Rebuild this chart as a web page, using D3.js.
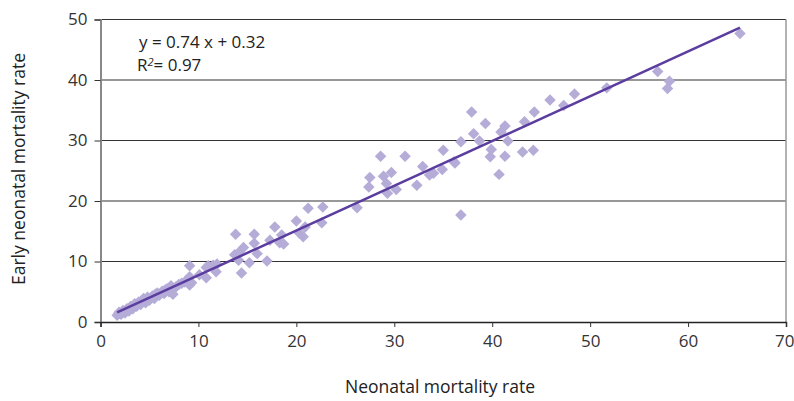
<!DOCTYPE html>
<html><head><meta charset="utf-8">
<script src="https://cdn.jsdelivr.net/npm/d3@7"></script>
<style>body{margin:0;background:#fff}svg{display:block}text{font-family:"Open Sans",Lato,sans-serif}</style>
</head><body><div id="chart"></div>
<script>
const xTicks = [0,10,20,30,40,50,60,70];
const yTicks = [0,10,20,30,40,50];
const neonatal = [1.7,1.9,2.1,2.3,2.5,2.7,2.9,3.1,3.3,3.5,3.7,3.9,4.1,4.3,4.6,4.8,5.0,5.3,5.5,5.8,6.0,6.3,6.5,6.8,7.0,7.2,7.4,7.7,8.0,8.3,8.6,8.9,9.1,9.3,4.4,3.0,2.0,5.6,6.6,
 9.1,9.1,10.1,10.8,11.0,11.5,11.9,11.8,10.8,
 13.7,13.8,14.1,14.2,14.4,14.6,15.2,15.7,15.7,16.0,17.0,17.3,17.8,18.3,18.5,18.7,20.0,20.3,20.7,20.9,21.2,22.6,22.7,
 26.2,27.4,27.5,28.6,28.9,29.2,29.3,29.7,30.2,31.1,32.3,32.9,33.6,34.0,34.9,35.0,36.2,36.8,36.8,
 36.1,37.9,38.1,38.7,39.3,39.9,39.8,40.7,40.9,41.3,41.6,41.3,43.1,44.2,43.3,44.3,45.9,47.3,48.4,
 51.7,56.9,58.1,57.9,65.3];
const earlyNeonatal = [1.1,1.6,1.3,1.9,1.5,2.2,1.8,2.6,2.2,3.0,2.6,3.3,2.9,3.5,3.2,4.1,3.6,4.3,3.9,4.8,4.4,5.1,4.7,5.5,5.0,6.0,4.6,5.8,6.2,6.4,6.6,7.0,6.1,6.5,3.9,2.4,1.4,4.6,5.3,
 9.3,7.5,7.8,7.3,9.3,9.4,9.6,8.3,9.0,
 11.1,14.5,10.2,11.6,8.1,12.3,9.8,14.5,13.0,11.3,10.1,13.5,15.7,13.1,14.4,12.9,16.7,14.7,14.1,15.7,18.8,16.4,19.0,
 18.9,22.3,23.9,27.4,24.1,22.9,21.3,24.7,21.9,27.4,22.6,25.7,24.3,24.6,25.2,28.4,26.3,29.8,17.7,
 26.5,34.7,31.1,29.9,32.8,28.5,27.3,24.4,31.4,32.4,29.9,27.4,28.1,28.4,33.1,34.7,36.7,35.8,37.7,
 38.7,41.4,39.8,38.6,47.7];
const slope = 0.74, intercept = 0.32;
const equationText = "y = 0.74 x + 0.32";
const xTitle = "Neonatal mortality rate";
const yTitle = "Early neonatal mortality rate";

const W = 794, H = 401;
const svg = d3.select("#chart").append("svg").attr("width", W).attr("height", H);
const x = d3.scaleLinear().domain([0,70]).range([100.5,786]);
const y = d3.scaleLinear().domain([0,50]).range([322,19.5]);

// gridlines
svg.append("g").selectAll("line").data(yTicks.filter(d=>d>0)).join("line")
  .attr("x1", x(0)).attr("x2", x(70)).attr("y1", d=>y(d)).attr("y2", d=>y(d))
  .attr("stroke", "#333").attr("stroke-width", 1.2);
// right border
svg.append("line").attr("x1", x(70)).attr("x2", x(70)).attr("y1", y(50)).attr("y2", y(0))
  .attr("stroke", "#999").attr("stroke-width", 1.5);

// axes
const yAxis = svg.append("g").attr("transform", `translate(${x(0)},0)`)
  .call(d3.axisLeft(y).tickValues(yTicks).tickSize(6).tickPadding(7));
yAxis.select(".domain").attr("stroke", "#888").attr("stroke-width", 2);
yAxis.selectAll(".tick line").attr("stroke", "#333");
yAxis.selectAll("text").attr("font-size", 17).attr("fill", "#333");

const xAxis = svg.append("g").attr("transform", `translate(0,${y(0)})`)
  .call(d3.axisBottom(x).tickValues(xTicks).tickSize(5).tickPadding(8));
xAxis.select(".domain").attr("stroke", "#222").attr("stroke-width", 1.5);
xAxis.selectAll(".tick line").attr("stroke", "#333");
xAxis.selectAll("text").attr("font-size", 17).attr("fill", "#333");
xAxis.selectAll(".tick").filter(d=>d===70).select("text").attr("text-anchor","end").attr("dx", 8);

// points
const pts = neonatal.map((v,i)=>[v, earlyNeonatal[i]]);
svg.append("g").selectAll("path").data(pts).join("path")
  .attr("d", d3.symbol().type(d3.symbolDiamond2).size(84))
  .attr("transform", d=>`translate(${x(d[0])},${y(d[1])})`)
  .attr("fill", "#b5acd8");

// trendline
const xmin = d3.min(neonatal), xmax = d3.max(neonatal);
svg.append("line")
  .attr("x1", x(xmin)).attr("y1", y(slope*xmin+intercept))
  .attr("x2", x(xmax)).attr("y2", y(slope*xmax+intercept))
  .attr("stroke", "#5b3d9f").attr("stroke-width", 2.5);

// equation
svg.append("text").attr("x", 139).attr("y", 48).attr("font-size", 17).attr("fill", "#222").text(equationText);
const r2 = svg.append("text").attr("x", 137).attr("y", 71).attr("font-size", 17).attr("fill", "#222");
r2.append("tspan").text("R");
r2.append("tspan").attr("dy", -5).attr("font-size", 11).attr("font-style","italic").text("2");
r2.append("tspan").attr("dy", 5).text("= 0.97");

// titles
svg.append("text").attr("x", 440).attr("y", 393).attr("text-anchor","middle").attr("font-size", 17.5).attr("fill","#222").text(xTitle);
svg.append("text").attr("transform", "translate(25,169) rotate(-90)").attr("text-anchor","middle").attr("font-size", 17.5).attr("fill","#222").text(yTitle);
</script></body></html>
